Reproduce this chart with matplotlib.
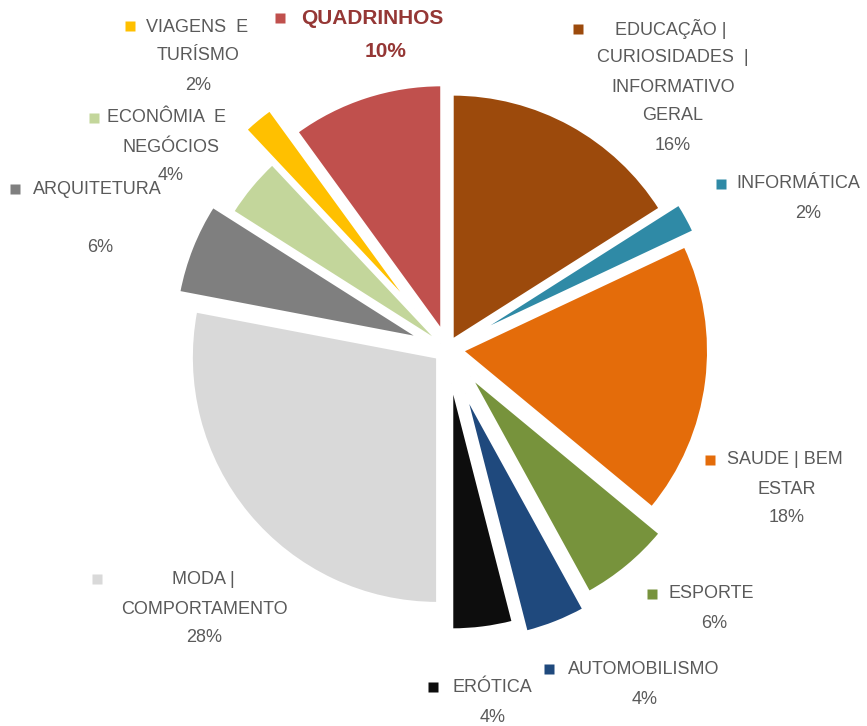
import matplotlib.pyplot as plt

# dados (ordem horária a partir do topo)
categorias = ['EDUCAÇÃO | CURIOSIDADES | INFORMATIVO GERAL', 'INFORMÁTICA',
              'SAUDE | BEM ESTAR', 'ESPORTE', 'AUTOMOBILISMO', 'ERÓTICA',
              'MODA | COMPORTAMENTO', 'ARQUITETURA', 'ECONÔMIA E NEGÓCIOS',
              'VIAGENS E TURÍSMO', 'QUADRINHOS']
valores = [16, 2, 18, 6, 4, 4, 28, 6, 4, 2, 10]

# quebras de linha dos rótulos como aparecem na figura
linhas = [['EDUCAÇÃO |', 'CURIOSIDADES  |', 'INFORMATIVO', 'GERAL'],
          ['INFORMÁTICA'],
          ['SAUDE | BEM', 'ESTAR'],
          ['ESPORTE'],
          ['AUTOMOBILISMO'],
          ['ERÓTICA'],
          ['MODA |', 'COMPORTAMENTO'],
          ['ARQUITETURA', ''],
          ['ECONÔMIA  E', 'NEGÓCIOS'],
          ['VIAGENS  E', 'TURÍSMO'],
          ['QUADRINHOS']]

cores = ['#9c4a0c', '#2f8aa6', '#e46c0a', '#77933c', '#1f497d', '#0d0d0d',
         '#d9d9d9', '#7f7f7f', '#c3d69b', '#ffc000', '#c0504d']
# deslocamento de cada fatia (em pixels)
explode = [10, 27, 15, 36, 48, 35, 13, 29, 9, 52, 19]

# posição dos rótulos: marcador (x, y), x da 1a linha, alinhamento, x do centro das demais, y da 1a linha
pos_rotulos = [
    (578, 29, 615, 'left', 673, 29),
    (721, 184, 736, 'left', 808, 184),
    (710, 460, 727, 'left', 787, 460),
    (652, 594, 668, 'left', 714, 594),
    (549, 669, 568, 'left', 645, 670),
    (433, 687, 452, 'left', 493, 688),
    (97, 579, 203, 'center', 204, 580),
    (15, 189, 33, 'left', 100, 190),
    (94, 118, 107, 'left', 171, 118),
    (130, 26, 146, 'left', 198, 27),
    (280, 18, 301, 'left', 386, 18),
]

fig = plt.figure(figsize=(8.67, 7.26), dpi=100)
ax = fig.add_axes([0, 0, 1, 1])

# eixo y invertido -> startangle=-90 e sentido anti-horário aparecem como horário a partir do topo
ax.pie(valores, colors=cores, explode=explode, startangle=-90, counterclock=True,
       center=(447.5, 349), radius=246,
       wedgeprops=dict(edgecolor='white', linewidth=2))

ax.set_xlim(0, 867)
ax.set_ylim(726, 0)
ax.set_aspect('equal')
ax.axis('off')

cinza = '#5a5a5a'
for i, (mx, my, x1, ha1, xc, y0) in enumerate(pos_rotulos):
    txt = linhas[i] + ['%d%%' % valores[i]]
    if categorias[i] == 'QUADRINHOS':
        tam, peso, cor = 15, 'bold', '#953735'
    else:
        tam, peso, cor = 13, 'normal', cinza
    passo = 29 * tam / 13
    ax.plot(mx, my, marker='s', ms=7, color=cores[i], mec='none')
    for j, t in enumerate(txt):
        if j == 0:
            ax.text(x1, y0, t, ha=ha1, va='center', fontsize=tam,
                    fontweight=peso, color=cor, family='Liberation Sans')
        else:
            ax.text(xc, y0 + j * passo, t, ha='center', va='center', fontsize=tam,
                    fontweight=peso, color=cor, family='Liberation Sans')

fig.savefig('out.png', dpi=100)
